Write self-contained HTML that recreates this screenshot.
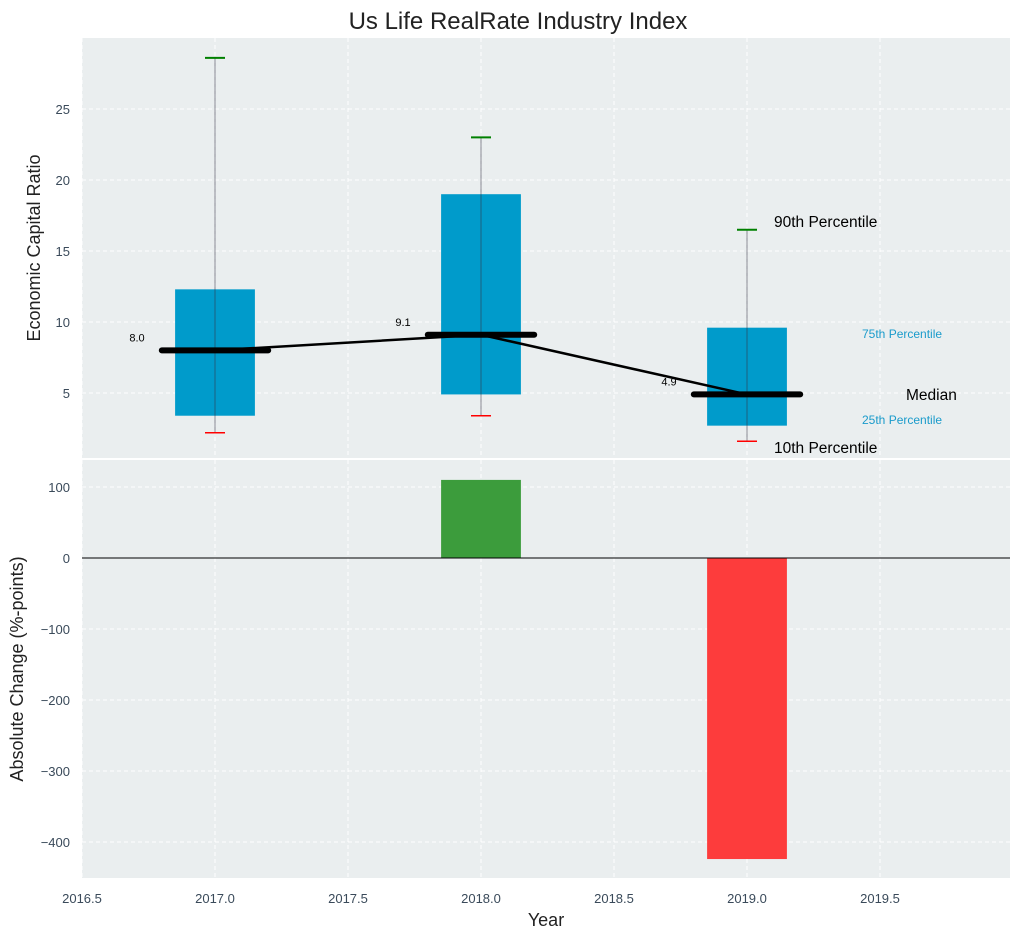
<!DOCTYPE html>
<html><head><meta charset="utf-8"><style>
body{margin:0;background:#fff}
svg{display:block;font-family:"Liberation Sans",sans-serif}
</style></head><body>
<svg id="c" width="1021" height="940"></svg>
<script>
const years=[2017,2018,2019];
const p10=[2.2,3.4,1.6];
const p25=[3.4,4.9,2.7];
const medians=[8.0,9.1,4.9];
const p75=[12.3,19.0,9.6];
const p90=[28.6,23.0,16.5];
const changes=[null,110,-424];
const xTicks=[2016.5,2017.0,2017.5,2018.0,2018.5,2019.0,2019.5];
const yTopTicks=[5,10,15,20,25];
const yBotTicks=[-400,-300,-200,-100,0,100];

const NS="http://www.w3.org/2000/svg";
const svg=document.getElementById('c');
function mk(t,a,p){const e=document.createElementNS(NS,t);for(const k in a)e.setAttribute(k,a[k]);(p||svg).appendChild(e);return e;}
const L=82,R=1010;
const X=v=>L+(v-2016.5)*(R-L)/(2019.9887-2016.5);
const T0=38,T1=458,B0=460,B1=878;
const YT=v=>393-(v-5)*14.2;
const YB=v=>558-v*0.71;

let e=mk('text',{x:518,y:29,'text-anchor':'middle','font-size':24,fill:'#222'});e.textContent='Us Life RealRate Industry Index';


e=mk('rect',{x:L,y:T0,width:R-L,height:T1-T0,fill:'#eaeeef'});

e=mk('rect',{x:L,y:B0,width:R-L,height:B1-B0,fill:'#eaeeef'});


xTicks.forEach(v=>{
  mk('line',{x1:X(v),x2:X(v),y1:T0,y2:T1,stroke:'#fff','stroke-dasharray':'4,3','stroke-width':1});
  mk('line',{x1:X(v),x2:X(v),y1:B0,y2:B1,stroke:'#fff','stroke-dasharray':'4,3','stroke-width':1});
  e=mk('text',{x:X(v),y:903,'text-anchor':'middle','font-size':13,fill:'#3a4a5a'});e.textContent=v.toFixed(1);
  
});
yTopTicks.forEach(v=>{
  mk('line',{x1:L,x2:R,y1:YT(v),y2:YT(v),stroke:'#fff','stroke-dasharray':'4,3'});
  e=mk('text',{x:70,y:YT(v)+5,'text-anchor':'end','font-size':13,fill:'#3a4a5a'});e.textContent=v;
  
});
yBotTicks.forEach(v=>{
  mk('line',{x1:L,x2:R,y1:YB(v),y2:YB(v),stroke:'#fff','stroke-dasharray':'4,3'});
  e=mk('text',{x:70,y:YB(v)+5,'text-anchor':'end','font-size':13,fill:'#3a4a5a'});e.textContent=v<0?'\u2212'+(-v):v;
  
});

years.forEach((yr,i)=>{
  const x=X(yr),w=X(yr+0.15)-X(yr);
  e=mk('rect',{x:x-w,y:YT(p75[i]),width:2*w,height:YT(p25[i])-YT(p75[i]),fill:'#009bcb'});
  
  e=mk('line',{x1:x,x2:x,y1:YT(p90[i]),y2:YT(p10[i]),stroke:'#334','stroke-opacity':0.55,'stroke-width':1});
  
  e=mk('line',{x1:x-10,x2:x+10,y1:YT(p90[i]),y2:YT(p90[i]),stroke:'green','stroke-width':2});
  
  e=mk('line',{x1:x-10,x2:x+10,y1:YT(p10[i]),y2:YT(p10[i]),stroke:'red','stroke-width':1.5});
  
});
e=mk('polyline',{points:years.map((y,i)=>X(y)+','+YT(medians[i])).join(' '),fill:'none',stroke:'#000','stroke-width':2.5});

years.forEach((yr,i)=>{
  const x=X(yr),h=X(yr+0.2)-X(yr);
  e=mk('line',{x1:x-h,x2:x+h,y1:YT(medians[i]),y2:YT(medians[i]),stroke:'#000','stroke-width':6,'stroke-linecap':'round'});
  
  e=mk('text',{x:x-78,y:YT(medians[i])-9,'text-anchor':'middle','font-size':11,fill:'#000'});e.textContent=medians[i].toFixed(1);
  
});
const ann=[['90th Percentile',774,227,15.5,'#000'],['75th Percentile',862,338,12,'#1a9bcb'],['Median',906,400,15.5,'#000'],['25th Percentile',862,424,12,'#1a9bcb'],['10th Percentile',774,453,15.5,'#000']];
ann.forEach(a=>{e=mk('text',{x:a[1],y:a[2],'font-size':a[3],fill:a[4]});e.textContent=a[0];
  });

years.forEach((yr,i)=>{
  if(changes[i]==null)return;
  const x=X(yr),w=X(yr+0.15)-X(yr),v=changes[i];
  e=mk('rect',{x:x-w,y:Math.min(YB(v),YB(0)),width:2*w,height:Math.abs(YB(v)-YB(0)),fill:v>=0?'#3c9c3c':'#fd3c3c'});
  
});
e=mk('line',{x1:L,x2:R,y1:YB(0),y2:YB(0),stroke:'#000','stroke-width':1});


e=mk('text',{x:0,y:0,transform:'translate(40,248) rotate(-90)','text-anchor':'middle','font-size':18,fill:'#222'});e.textContent='Economic Capital Ratio';

e=mk('text',{x:0,y:0,transform:'translate(23,669) rotate(-90)','text-anchor':'middle','font-size':18,fill:'#222'});e.textContent='Absolute Change (%-points)';

e=mk('text',{x:546,y:926,'text-anchor':'middle','font-size':18,fill:'#222'});e.textContent='Year';

</script>
</body></html>
